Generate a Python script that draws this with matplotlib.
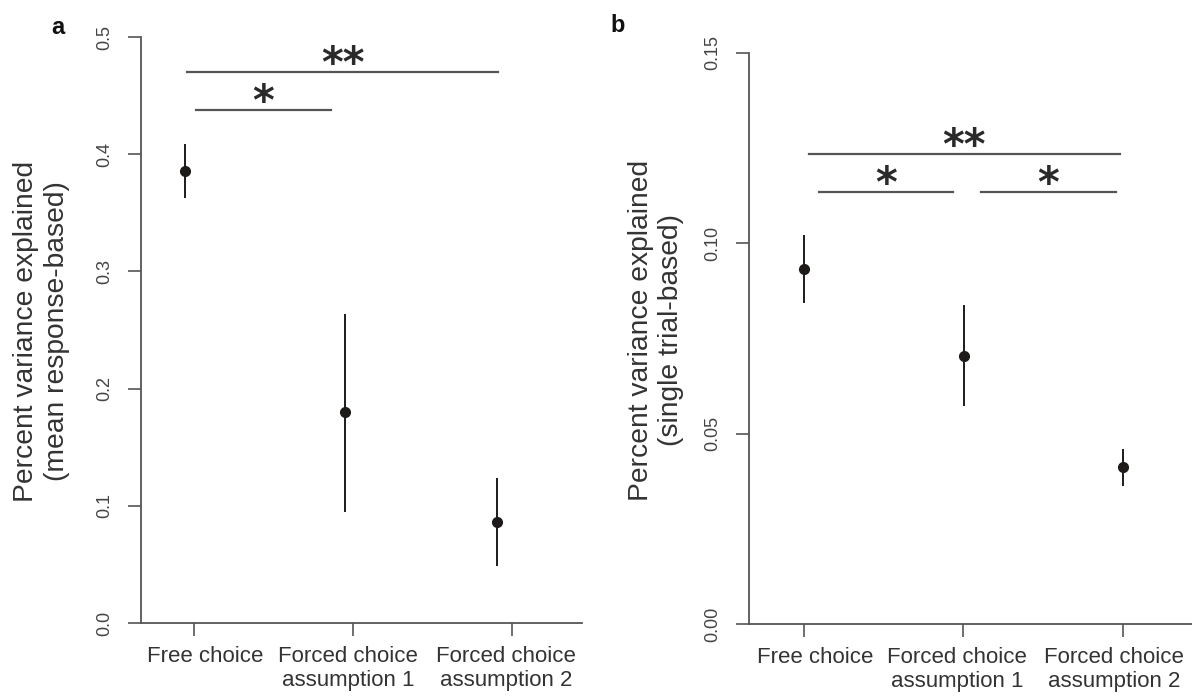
import matplotlib
matplotlib.use('Agg')
import matplotlib.pyplot as plt
from matplotlib.transforms import ScaledTranslation

plt.rcParams['font.family'] = ['Liberation Sans', 'DejaVu Sans']

# ---------------- data ----------------
categories = ['Free choice', 'Forced choice\nassumption 1', 'Forced choice\nassumption 2']
tick_pos = [1, 2, 3]

a_x = [0.943, 1.948, 2.902]
a_mean = [0.386, 0.180, 0.086]
a_lo = [0.363, 0.095, 0.049]
a_hi = [0.409, 0.264, 0.124]
a_yticks = [0.0, 0.1, 0.2, 0.3, 0.4, 0.5]
a_yticklabels = ['0.0', '0.1', '0.2', '0.3', '0.4', '0.5']
a_sig_x0 = [1.013, 0.956]
a_sig_x1 = [1.860, 2.909]
a_sig_y = [0.438, 0.4705]
a_sig_lab = ['*', '**']

b_x = [1.0, 2.005, 3.003]
b_mean = [0.0933, 0.0704, 0.0413]
b_lo = [0.0843, 0.0573, 0.0363]
b_hi = [0.1022, 0.0838, 0.0460]
b_yticks = [0.00, 0.05, 0.10, 0.15]
b_yticklabels = ['0.00', '0.05', '0.10', '0.15']
b_sig_x0 = [1.097, 2.111, 1.034]
b_sig_x1 = [1.936, 2.955, 2.981]
b_sig_y = [0.1135, 0.1135, 0.1235]
b_sig_lab = ['*', '*', '**']

# ---------------- figure ----------------
W, H = 1192, 698
fig = plt.figure(figsize=(W / 100, H / 100), dpi=100)

axis_col = '#555555'
text_col = '#333333'
pt_col = '#1e1a1a'


def frac(l, r, t, b):
    return [l / W, 1 - b / H, (r - l) / W, (b - t) / H]


def panel(rect, xlim, ylim, xs, mean, lo, hi, yticks, yticklabels,
          sx0, sx1, sy, slab, label_dx):
    ax = fig.add_axes(rect)
    ax.set_xlim(*xlim)
    ax.set_ylim(*ylim)
    for s in ['top', 'right']:
        ax.spines[s].set_visible(False)
    for s in ['left', 'bottom']:
        ax.spines[s].set_color(axis_col)
        ax.spines[s].set_linewidth(1.3)
    ax.set_yticks(yticks)
    ax.set_yticklabels(yticklabels, rotation=90, va='center')
    ax.tick_params(axis='y', length=9.4, width=1.2, color=axis_col,
                   labelsize=13, labelcolor='#444444', pad=10.5)
    ax.set_xticks(tick_pos)
    ax.set_xticklabels([''] * len(tick_pos))
    ax.tick_params(axis='x', length=9.4, width=1.2, color=axis_col)
    for xp, lab, dx in zip(tick_pos, categories, label_dx):
        tr = ax.get_xaxis_transform() + ScaledTranslation(dx / 100, -23 / 100, fig.dpi_scale_trans)
        ax.text(xp, 0, lab, transform=tr, ha='center', va='top',
                fontsize=16, color=text_col, linespacing=1.2,
                multialignment='center')
    # error bars + points
    for xv, m, l, h in zip(xs, mean, lo, hi):
        ax.plot([xv, xv], [l, h], color=pt_col, lw=1.4, solid_capstyle='butt')
    ax.plot(xs, mean, 'o', color=pt_col, ms=7, zorder=3)
    # significance lines
    for x0, x1, y, lab in zip(sx0, sx1, sy, slab):
        ax.plot([x0, x1], [y, y], color=axis_col, lw=1.6, clip_on=False)
        tr = ax.transData + ScaledTranslation(0, -5.5 / 100, fig.dpi_scale_trans)
        ax.text((x0 + x1) / 2, y, lab, transform=tr, ha='center', va='baseline',
                fontsize=30, color='#2a2a2a', family='DejaVu Sans',
                fontweight='bold')
    return ax


# panel a
pxa = 159.25
panel(frac(140.5, 582, 37, 623), (1 - 53.5 / pxa, 3 + 69.5 / pxa), (0, 0.5),
      a_x, a_mean, a_lo, a_hi, a_yticks, a_yticklabels,
      a_sig_x0, a_sig_x1, a_sig_y, a_sig_lab, [11, -5, -6.5])

# panel b
pxb = 159.75
panel(frac(749, 1192, 53, 624), (1 - 54.5 / pxb, 3 + 69 / pxb), (0, 0.15),
      b_x, b_mean, b_lo, b_hi, b_yticks, b_yticklabels,
      b_sig_x0, b_sig_x1, b_sig_y, b_sig_lab, [11.5, -6, -9])

# y labels
fig.text(41.5 / W, 1 - 331 / H, 'Percent variance explained\n(mean response-based)',
         rotation=90, ha='center', va='center', multialignment='center',
         fontsize=20.3, color=text_col, linespacing=1.25)
fig.text(656 / W, 1 - 330 / H, 'Percent variance explained\n(single trial-based)',
         rotation=90, ha='center', va='center', multialignment='center',
         fontsize=20.3, color=text_col, linespacing=1.25)

# panel letters
fig.text(58 / W, 1 - 27 / H, 'a', ha='center', va='center', fontsize=17,
         fontweight='bold', color='#111111')
fig.text(618 / W, 1 - 25 / H, 'b', ha='center', va='center', fontsize=17,
         fontweight='bold', color='#111111')

fig.savefig('out.png', dpi=100)
